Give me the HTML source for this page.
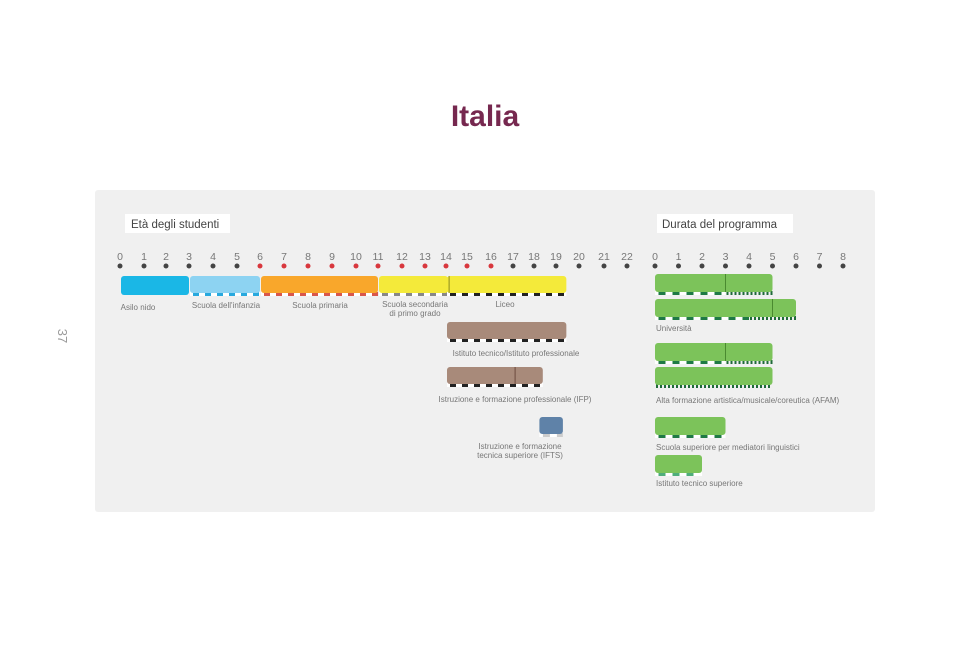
<!DOCTYPE html>
<html><head><meta charset="utf-8">
<style>
html,body{margin:0;padding:0;background:#fff;width:960px;height:672px;overflow:hidden;font-family:"Liberation Sans",sans-serif}
svg text{font-family:"Liberation Sans",sans-serif}
</style></head>
<body>
<svg id="chart" width="960" height="672" viewBox="0 0 960 672">
<text x="485" y="126" text-anchor="middle" font-size="30" font-weight="bold" fill="#76284f">Italia</text>
<text x="0" y="0" transform="translate(58,336) rotate(90)" text-anchor="middle" font-size="13" fill="#999">37</text>
<rect x="95" y="190" width="780" height="322" rx="3" fill="#f0f0f0"/>
<rect x="125" y="214" width="105" height="19" fill="#fff"/>
<text x="131" y="228" font-size="11.5" fill="#444">Età degli studenti</text>
<rect x="657" y="214" width="136" height="19" fill="#fff"/>
<text x="662" y="228" font-size="11.5" fill="#444">Durata del programma</text>
<g id="marks"></g>
</svg>
<script>
// Age axis
const ageTicks = [0,1,2,3,4,5,6,7,8,9,10,11,12,13,14,15,16,17,18,19,20,21,22];
const compulsoryAges = [6,7,8,9,10,11,12,13,14,15,16];
const ageBarNames = ["Asilo nido","Scuola dell'infanzia","Scuola primaria","Scuola secondaria di primo grado","Liceo","Istituto tecnico/Istituto professionale","Istruzione e formazione professionale (IFP)","Istruzione e formazione tecnica superiore (IFTS)"];
const ageBarStart = [0,3,6,11,14,14,14,18.2];
const ageBarEnd = [3,6,11,14.1,19.45,19.45,18.4,19.3];
const ageBarDivider = [null,null,null,null,null,null,17.1,null];
const ageBarColors = ["#1ab7e6","#8dd3f2","#f9a72b","#f4ea3a","#f4ea3a","#a88a7a","#a88a7a","#5f82a8"];
const ageBarDash = [null,"#28a9de","#d9574b","#888","#222","#222","#222","#fff"];
const ageBarRow = [0,0,0,0,0,1,2,3];
// Duration axis
const durTicks = [0,1,2,3,4,5,6,7,8];
const durBarNames = ["Università 1","Università 2","AFAM 1","AFAM 2","Scuola superiore per mediatori linguistici","Istituto tecnico superiore"];
const durBarEnd = [5,6,5,5,3,2];
const durBarDivider = [3,5,3,null,null,null];
const durBarRow = [0,1,2,3,4,5];

const svg = document.getElementById('marks');
const NS = 'http://www.w3.org/2000/svg';
// axis calibration (scale breakpoints of the printed axis)
const ageAxisCal = [120,144,166,189,213,237,260,284,308,332,356,378,402,425,446,467,491,513,534,556,579,604,627];
const ax = v => { const i=Math.max(0,Math.min(21,Math.floor(v))); return ageAxisCal[i]+(v-i)*(ageAxisCal[i+1]-ageAxisCal[i]); };
const dx = v => 655 + v * 23.5;
const ageRowY = [276,322,367,417];
const durRowY = [274,299,343,367,417,455];

function mk(tag, attrs, parent){const e=document.createElementNS(NS,tag);for(const k in attrs)e.setAttribute(k,attrs[k]);(parent||svg).appendChild(e);return e;}

ageTicks.forEach(t=>{
  const g=mk('g',{});
  
  
  const tx=mk('text',{x:ax(t),y:260,'text-anchor':'middle','font-size':10.5,fill:'#777'},g);tx.textContent=t;
  mk('circle',{cx:ax(t),cy:266,r:2.5,fill:compulsoryAges.includes(t)?'#d8373d':'#444'},g);
});
durTicks.forEach(t=>{
  const g=mk('g',{});
  
  
  const tx=mk('text',{x:dx(t),y:260,'text-anchor':'middle','font-size':10.5,fill:'#777'},g);tx.textContent=t;
  mk('circle',{cx:dx(t),cy:266,r:2.5,fill:'#444'},g);
});

function dashStrip(g,x0,x1,y,color,seg){
  mk('rect',{x:x0,y:y,width:x1-x0,height:4,fill:'#fff'},g);
  if(!color)return;
  for(let x=x0+seg/2;x<x1-2;x+=seg*2){mk('rect',{x:x,y:y,width:Math.min(seg,x1-x),height:4,fill:color},g);}
}

ageBarNames.forEach((n,i)=>{
  const g=mk('g',{});
  
  
  const x0=ax(ageBarStart[i])+1, x1=ax(ageBarEnd[i]), y=ageRowY[ageBarRow[i]];
  const h=19;
  if(ageBarDash[i]) dashStrip(g,x0,x1,y+h-3,ageBarDash[i]==='#fff'?'#ccc':ageBarDash[i],i===7?7:6);
  mk('rect',{x:x0,y:y,width:x1-x0,height:ageBarDash[i]?h-2:h,rx:3,fill:ageBarColors[i]},g);
  if(ageBarDivider[i]!=null) mk('line',{x1:ax(ageBarDivider[i]),x2:ax(ageBarDivider[i]),y1:y,y2:y+h-2,stroke:'#6b4a3f','stroke-width':1},g);
});
mk('line',{x1:ax(14.1)+1,x2:ax(14.1)+1,y1:276,y2:293,stroke:'#8a8a20','stroke-width':1});

const ageLabels=[["Asilo nido",138,310],["Scuola dell'infanzia",226,308],["Scuola primaria",320,308],["Scuola secondaria",415,307],["di primo grado",415,316],["Liceo",505,307],["Istituto tecnico/Istituto professionale",516,356],["Istruzione e formazione professionale (IFP)",515,402],["Istruzione e formazione",520,449],["tecnica superiore (IFTS)",520,458]];
ageLabels.forEach((l,i)=>{const t=mk('text',{x:l[1],y:l[2],'text-anchor':'middle','font-size':8,fill:'#777'});t.textContent=l[0];});

durBarNames.forEach((n,i)=>{
  const g=mk('g',{});
  
  
  const x0=dx(0), x1=dx(durBarEnd[i]), y=durRowY[durBarRow[i]], h=20;
  const split = durBarDivider[i]!=null && i!==1 ? dx(durBarDivider[i]) : (i===1?dx(4):(i===3?x0:x1));
  const light = i===5;
  dashStrip(g,x0,split,y+h-3,light?'#4fae7a':'#1f7a45',7);
  for(let x=split+1;x<x1-1;x+=4){mk('rect',{x:x,y:y+h-3,width:2,height:4,fill:'#1f6a3a'},g);}
  mk('rect',{x:x0,y:y,width:x1-x0,height:h-2,rx:3,fill:'#7cc35a'},g);
  if(durBarDivider[i]!=null) mk('line',{x1:dx(durBarDivider[i]),x2:dx(durBarDivider[i]),y1:y,y2:y+h-2,stroke:'#4a8a30','stroke-width':1},g);
});
const durLabels=[["Università",656,331],["Alta formazione artistica/musicale/coreutica (AFAM)",656,403],["Scuola superiore per mediatori linguistici",656,450],["Istituto tecnico superiore",656,486]];
durLabels.forEach((l,i)=>{const t=mk('text',{x:l[1],y:l[2],'font-size':8,fill:'#777'});t.textContent=l[0];});
</script>
</body></html>
